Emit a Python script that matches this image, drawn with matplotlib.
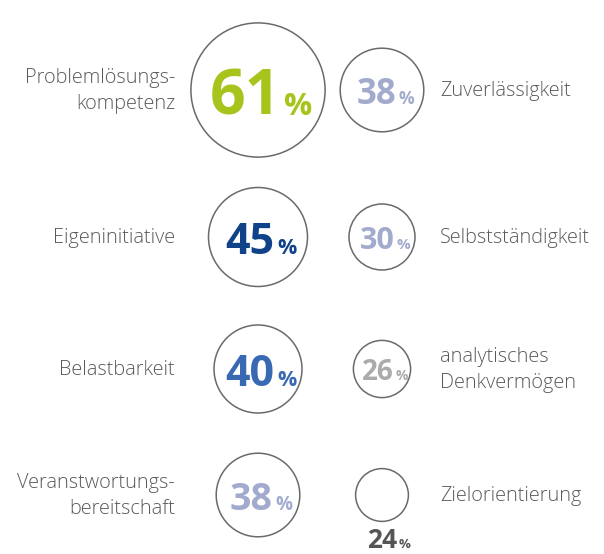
import matplotlib.pyplot as plt
from matplotlib.patches import Circle

# Kompetenzen, Anteil in Prozent
labels = ["Problemlösungs-\nkompetenz", "Zuverlässigkeit",
          "Eigeninitiative", "Selbstständigkeit",
          "Belastbarkeit", "analytisches\nDenkvermögen",
          "Veranstwortungs-\nbereitschaft", "Zielorientierung"]
values = [61, 38, 45, 30, 40, 26, 38, 24]

num_colors = ["#a6c41c", "#a2abcd", "#0f4288", "#a2abcd",
              "#3a69b3", "#ababab", "#a2abcd", "#555555"]
num_sizes = [45, 25, 31, 22, 31, 20, 27, 19]

col_x = [258, 382]
row_y = [90, 237, 369, 495]

plt.rcParams['font.family'] = ['Open Sans', 'DejaVu Sans']

fig = plt.figure(figsize=(6.04, 5.54), dpi=100)
ax = fig.add_axes([0, 0, 1, 1])
ax.set_xlim(0, 604)
ax.set_ylim(554, 0)
ax.set_aspect('equal')
ax.axis('off')
renderer = fig.canvas.get_renderer()

for i, (lab, val) in enumerate(zip(labels, values)):
    cx = col_x[i % 2]
    cy = row_y[i // 2]
    r = 1.1 * val
    ax.add_patch(Circle((cx, cy), r, fill=False, edgecolor="#6a6a6a", linewidth=1.1))

    if i % 2 == 0:
        ax.text(175, cy + 1, lab, ha='right', va='center', fontsize=14.3,
                color="#5a5a5a", fontweight='light', linespacing=1.45)
    else:
        ax.text(440, cy + 1, lab, ha='left', va='center', fontsize=14.3,
                color="#5a5a5a", fontweight='light', linespacing=1.45)

    fs = num_sizes[i]
    fs_px = fs * 100 / 72
    cap = 0.714 * fs_px
    if val < 25:
        # kleiner Kreis: Wert unter den Kreis schreiben
        base = cy + r + 8 + cap
        cx = cx + 4
    else:
        base = cy + 0.55 * cap

    num = ax.text(0, base, str(val), ha='left', va='baseline', fontsize=fs,
                  fontweight='bold', color=num_colors[i])
    pct = ax.text(0, base, "%", ha='left', va='baseline', fontsize=fs * 0.5,
                  fontweight='bold', color=num_colors[i])
    w_num = num.get_window_extent(renderer).width
    w_pct = pct.get_window_extent(renderer).width
    gap = 0.06 * fs_px
    x0 = cx - (w_num + gap + w_pct) / 2 + 3
    num.set_x(x0)
    pct.set_x(x0 + w_num + gap)

fig.savefig("out.png", dpi=100)
